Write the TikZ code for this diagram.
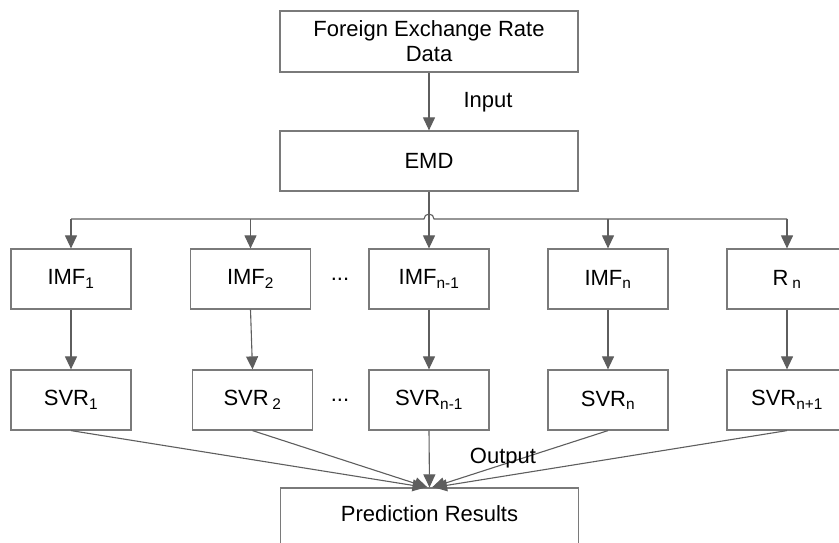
\documentclass[tikz,border=0pt]{standalone}
\usepackage{fontspec}
\setmainfont{Liberation Sans}
\usetikzlibrary{arrows.meta,positioning}
\definecolor{boxgray}{HTML}{7A7A7A}
\definecolor{linegray}{HTML}{5E5E5E}

\begin{document}
\begin{tikzpicture}[x=1bp, y=-1bp,
    box/.style={draw=boxgray, line width=1.2bp, minimum width=120bp, minimum height=60bp,
        inner sep=0pt, align=center, font=\fontsize{22bp}{25bp}\selectfont},
    widebox/.style={box, minimum width=298bp},
    flow/.style={draw=linegray, line width=1.1bp, -{Triangle[length=13bp,width=12bp]}},
    lbl/.style={font=\fontsize{22bp}{25bp}\selectfont}]
    \clip (0,0) rectangle (839,543);

    % Data and decomposition
    \node[widebox, minimum height=61bp] (data) at (429,41.5) {Foreign Exchange Rate\\Data};
    \node[widebox] (emd) at (429,161) {EMD};
    \draw[flow] (data) -- (emd);
    \node[lbl] (input) at (488,102) {Input};

    % Components
    \node[box] (imf1) at (71,279) {IMF\textsubscript{1}};
    \node[box] (imf2) at (250.5,279) {IMF\textsubscript{2}};
    \node[box] (imfm) at (429,279) {IMF\textsubscript{n-1}};
    \node[box] (imfn) at (608,279) {IMF\textsubscript{n}};
    \node[box] (rn) at (787,279) {R\,\textsubscript{n}};
    \node[lbl] (dotsa) at (340,279) {...};

    % Bus from EMD to the components
    \coordinate (bus1) at (imf1.north |- 0,219);
    \coordinate (bus2) at (imf2.north |- 0,219);
    \coordinate (busn) at (imfn.north |- 0,219);
    \coordinate (bus5) at (rn.north |- 0,219);
    \coordinate (hopl) at (424,219);
    \draw[linegray, line width=1.1bp] (bus1) -- (hopl) arc (180:360:5) -- (bus5);
    \draw[flow] (emd) -- (imfm);
    \draw[flow] (bus1) -- (imf1);
    \draw[flow] (bus2) -- (imf2);
    \draw[flow] (busn) -- (imfn);
    \draw[flow] (bus5) -- (rn);

    % SVR models
    \node[box] (svr1) at (71,400) {SVR\textsubscript{1}};
    \node[box] (svr2) at (252.5,400) {SVR\,\textsubscript{2}};
    \node[box] (svrm) at (429,400) {SVR\textsubscript{n-1}};
    \node[box] (svrn) at (608,400) {SVR\textsubscript{n}};
    \node[box] (svr5) at (787,400) {SVR\textsubscript{n+1}};
    \node[lbl] (dotsb) at (340,400) {...};

    \draw[flow] (imf1) -- (svr1);
    \draw[flow] (imf2.south) -- (svr2.north);
    \draw[flow] (imfm) -- (svrm);
    \draw[flow] (imfn) -- (svrn);
    \draw[flow] (rn) -- (svr5);

    % Combination
    \node[widebox, minimum height=72bp] (pred) at (429.5,524) {};
    \node[lbl] (predtext) at (429.5,514) {Prediction Results};
    \draw[flow] (svr1.south) -- ([xshift=-4bp]pred.north);
    \draw[flow] (svr2.south) -- ([xshift=-2bp]pred.north);
    \draw[flow] (svrm.south) -- (pred.north);
    \draw[flow] (svrn.south) -- ([xshift=2.5bp]pred.north);
    \draw[flow] (svr5.south) -- ([xshift=4.5bp]pred.north);
    \node[lbl] (output) at (503,458) {Output};
\end{tikzpicture}
\end{document}
